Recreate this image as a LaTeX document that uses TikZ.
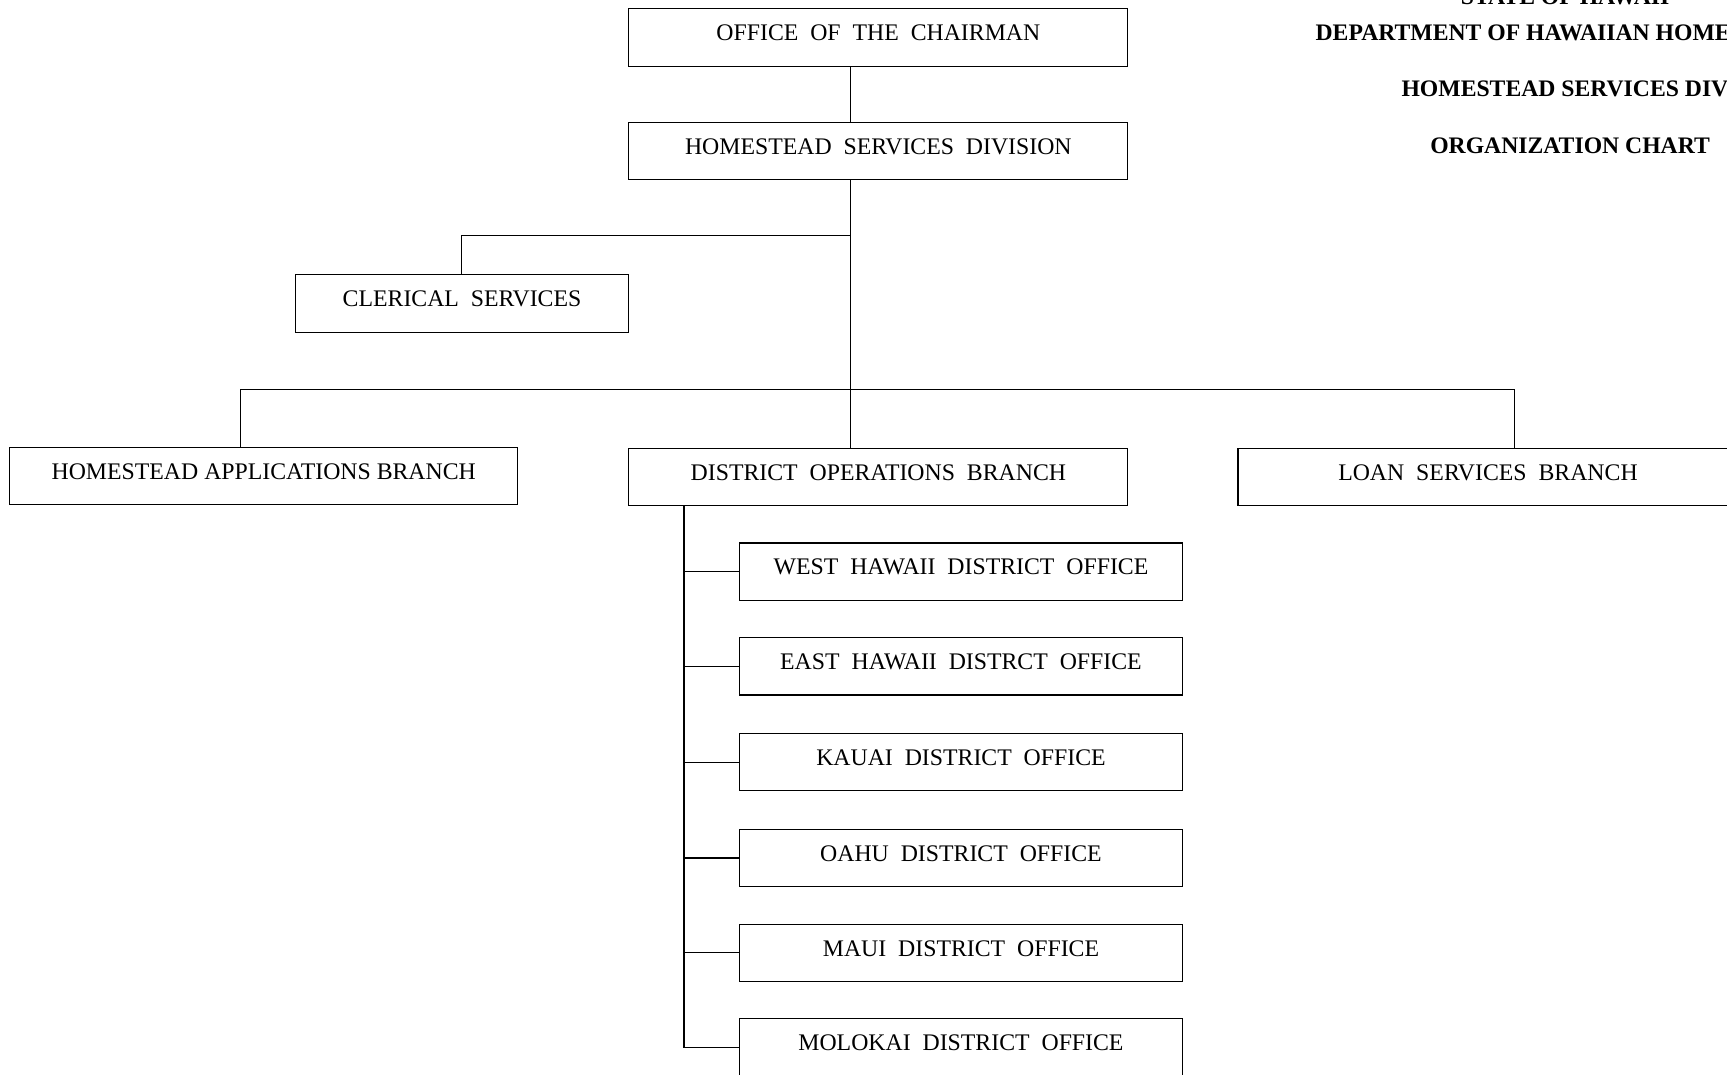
\documentclass[tikz,border=0pt]{standalone}
\usepackage{fontspec}
\setmainfont{Liberation Serif}
\newcommand\bxfont{\fontsize{21.6}{26}\selectfont}
\newcommand\widesp{\spaceskip=0.5em plus 0.1em\relax}
\begin{document}
\begin{tikzpicture}[x=1pt,y=-1pt,line width=1pt,
  box/.style={draw, line width=1pt, minimum height=52pt, inner sep=0pt, text height=14pt, text depth=8pt,
    font=\bxfont, execute at begin node=\widesp},
  tbox/.style={draw, line width=1pt, minimum height=52pt, inner sep=0pt, text height=14pt, text depth=8pt, font=\bxfont},
  ttl/.style={font=\fontsize{21.5}{26}\selectfont\bfseries, inner sep=0pt, anchor=base}]
\useasboundingbox (0,0) rectangle (1568,976);
\begin{scope}
\clip (0,0) rectangle (1568,976);
% boxes
\node[box, minimum width=453pt] (chair) at (797.5,34) {OFFICE OF THE CHAIRMAN};
\node[box, minimum width=453pt] (hsd) at (797.5,137) {HOMESTEAD SERVICES DIVISION};
\node[box, minimum width=303pt] (cler) at (419.5,275.5) {CLERICAL SERVICES};
\node[tbox, minimum width=461pt] (hab) at (239.5,432) {HOMESTEAD APPLICATIONS BRANCH};
\node[box, minimum width=453pt] (dob) at (797.5,433) {DISTRICT OPERATIONS BRANCH};
\node[box, minimum width=454pt] (lsb) at (1351,433) {LOAN SERVICES BRANCH};
\node[box, minimum width=403pt] (wh) at (872.5,519) {WEST HAWAII DISTRICT OFFICE};
\node[box, minimum width=403pt] (eh) at (872.5,605) {EAST HAWAII DISTRCT OFFICE};
\node[box, minimum width=403pt] (ka) at (872.5,692) {KAUAI DISTRICT OFFICE};
\node[box, minimum width=403pt] (oa) at (872.5,779) {OAHU DISTRICT OFFICE};
\node[box, minimum width=403pt] (ma) at (872.5,865) {MAUI DISTRICT OFFICE};
\node[box, minimum width=403pt] (mo) at (872.5,951) {MOLOKAI DISTRICT OFFICE};
% title
\node[ttl] (t0) at (1421,4) {STATE OF HAWAII};
\node[ttl, anchor=base west] (t1) at (1194,37) {DEPARTMENT OF HAWAIIAN HOMELANDS};
\node[ttl, anchor=base west] (t2) at (1272,88) {HOMESTEAD SERVICES DIVISION};
\node[ttl] (t3) at (1425.5,139) {ORGANIZATION CHART};
% connector coordinates
\coordinate (sp) at (772,0);
\coordinate (j1) at (772,214);
\coordinate (j2) at (772,354);
\coordinate (ha) at (218,354);
\coordinate (lb) at (1375,354);
\coordinate (cx) at (419,214);
\coordinate (dx) at (621,0);
% connectors
\draw (chair.south -| sp) -- (hsd.north -| sp);
\draw (hsd.south -| sp) -- (dob.north -| sp);
\draw (j1) -- (cx) -- (cler.north -| cx);
\draw (hab.north -| ha) -- (ha) -- (lb) -- (lsb.north -| lb);
\draw (dob.south -| dx) -- (mo.west -| dx) -- (mo.west);
\draw (wh.west -| dx) -- (wh.west);
\draw (eh.west -| dx) -- (eh.west);
\draw (ka.west -| dx) -- (ka.west);
\draw (oa.west -| dx) -- (oa.west);
\draw (ma.west -| dx) -- (ma.west);
\end{scope}
\end{tikzpicture}
\end{document}
